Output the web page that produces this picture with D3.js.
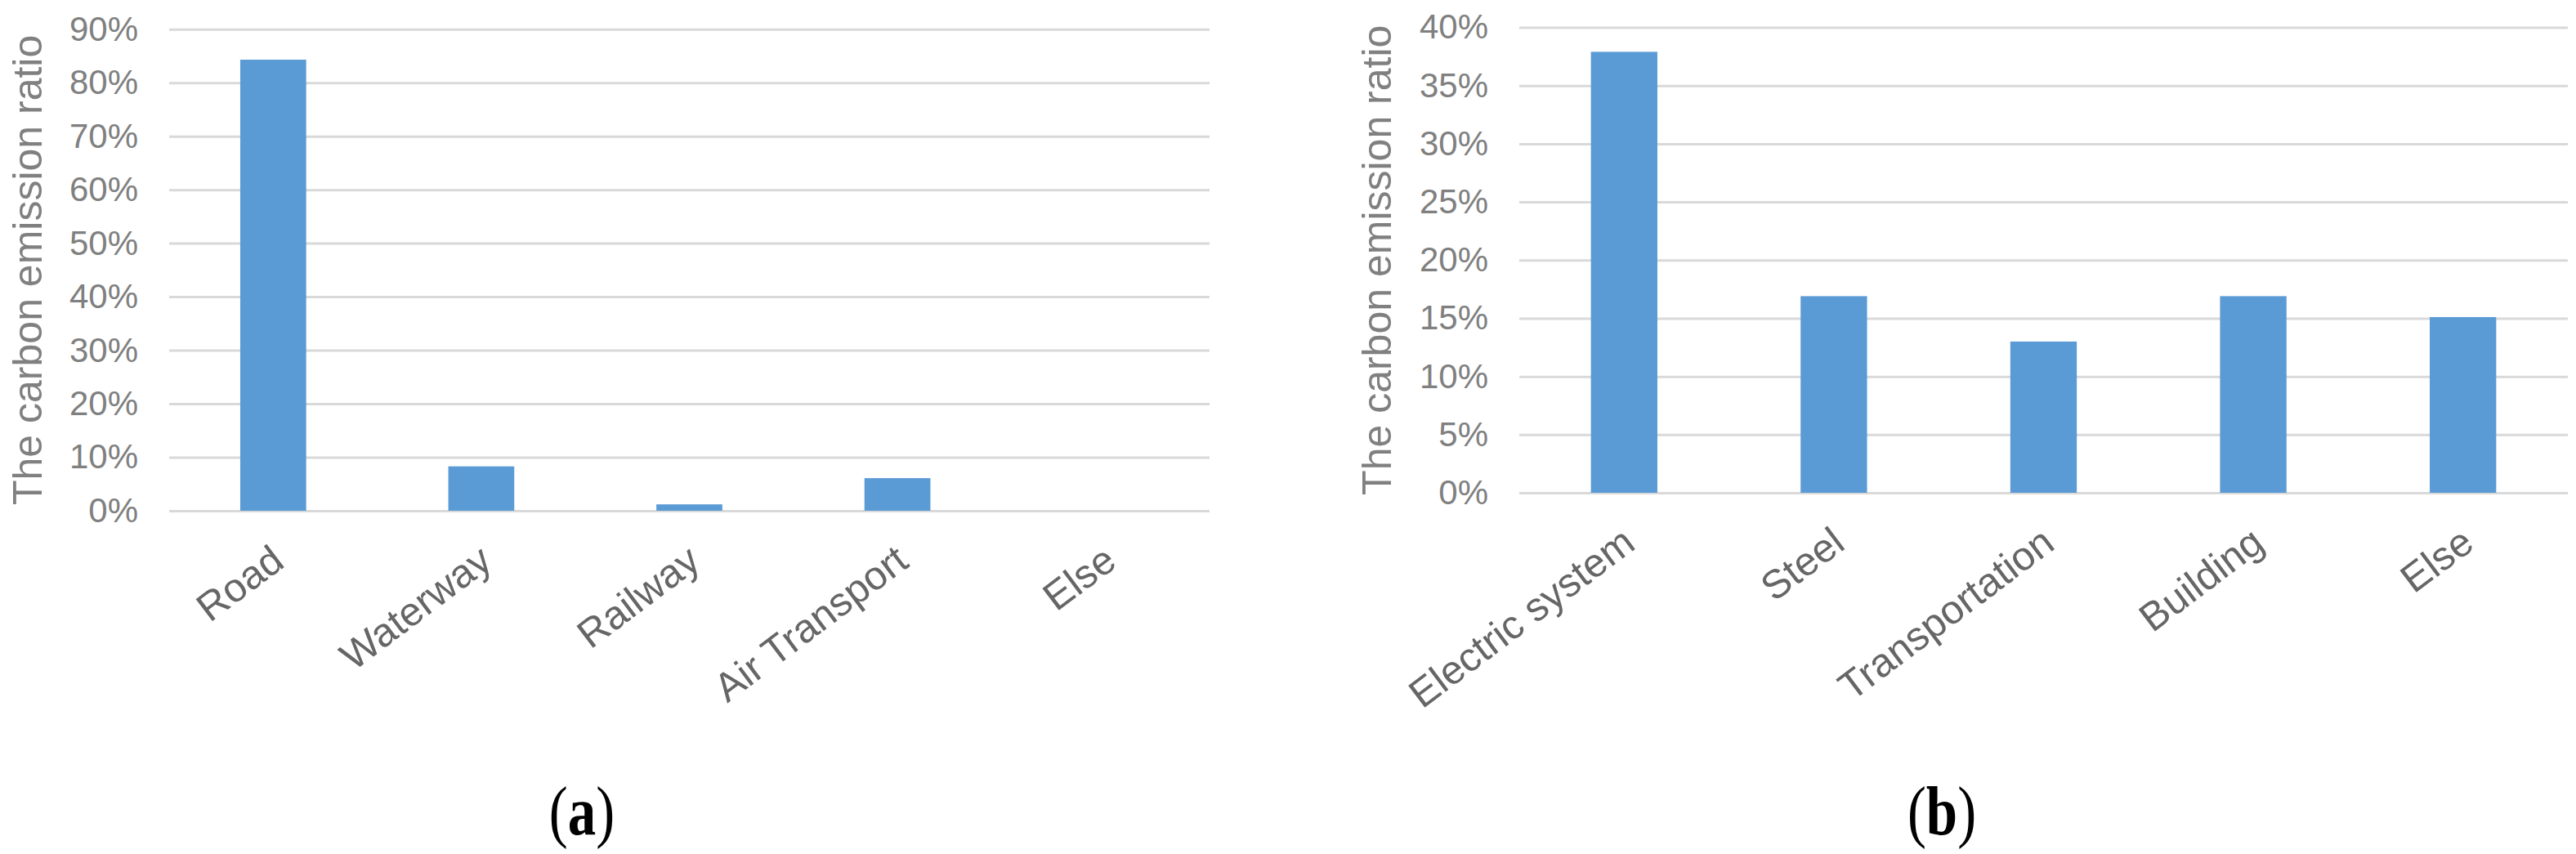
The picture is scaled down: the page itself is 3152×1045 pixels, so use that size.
<!DOCTYPE html>
<html>
<head>
<meta charset="utf-8">
<script src="https://cdn.jsdelivr.net/npm/d3@7"></script>
<style>
  body { margin: 0; background: #fff; }
  svg { display: block; }
</style>
</head>
<body>
<div id="chart"></div>
<script>
// Panel (a): carbon emission share by transport mode
const catsA = ["Road", "Waterway", "Railway", "Air Transport", "Else"];
const valsA = [0.843, 0.083, 0.012, 0.061, 0];
const ticksA = [0, 0.1, 0.2, 0.3, 0.4, 0.5, 0.6, 0.7, 0.8, 0.9];

// Panel (b): carbon emission share by sector
const catsB = ["Electric system", "Steel", "Transportation", "Building", "Else"];
const valsB = [0.379, 0.169, 0.130, 0.169, 0.151];
const ticksB = [0, 0.05, 0.1, 0.15, 0.2, 0.25, 0.3, 0.35, 0.4];

const svg = d3.select("#chart").append("svg")
    .attr("width", 3152)
    .attr("height", 1045);

renderPanel({
    cats: catsA, vals: valsA, ticks: ticksA,
    left: 207, right: 1480, top: 35.7, bottom: 625,
    titleX: 51, label: "a", labelX: 712
});

renderPanel({
    cats: catsB, vals: valsB, ticks: ticksB,
    left: 1859, right: 3142, top: 33.5, bottom: 603,
    titleX: 1702, label: "b", labelX: 2376
});

function renderPanel(cfg) {
    const width = cfg.right - cfg.left;
    const height = cfg.bottom - cfg.top;

    const g = svg.append("g")
        .attr("transform", `translate(${cfg.left},${cfg.top})`);

    const x = d3.scaleBand()
        .domain(cfg.cats)
        .range([0, width])
        .paddingInner(0.683)
        .paddingOuter(0.683 / 2);

    const y = d3.scaleLinear()
        .domain([0, d3.max(cfg.ticks)])
        .range([height, 0]);

    // gridlines
    g.append("g")
        .call(d3.axisLeft(y).tickValues(cfg.ticks).tickSize(-width).tickFormat(""))
        .call(a => a.select(".domain").remove())
        .selectAll("line")
        .attr("stroke", "#d9d9d9")
        .attr("stroke-width", 3);

    // y tick labels
    g.append("g")
        .call(d3.axisLeft(y).tickValues(cfg.ticks).tickSize(0).tickPadding(38).tickFormat(d3.format(".0%")))
        .call(a => a.select(".domain").remove())
        .selectAll("text")
        .attr("fill", "#808080")
        .style("font-family", "'Liberation Sans Narrow', 'Arial Narrow', 'Liberation Sans', Arial, sans-serif")
        .style("font-size", "42px");

    // bars
    g.selectAll("rect")
        .data(cfg.cats.map((c, i) => ({ cat: c, val: cfg.vals[i] })))
        .join("rect")
        .attr("x", d => x(d.cat))
        .attr("width", x.bandwidth())
        .attr("y", d => y(d.val))
        .attr("height", d => height - y(d.val))
        .attr("fill", "#5b9bd5");

    // category labels, rotated
    g.append("g")
        .attr("transform", `translate(0,${height})`)
        .call(d3.axisBottom(x).tickSize(0))
        .call(a => a.select(".domain").remove())
        .selectAll("text")
        .attr("x", 0).attr("y", 0).attr("dy", null)
        .attr("transform", "translate(16,67) rotate(-37)")
        .style("text-anchor", "end")
        .attr("fill", "#666666")
        .style("font-family", "'Liberation Sans', Arial, sans-serif")
        .style("font-size", "49px");

    // y axis title
    svg.append("text")
        .attr("transform", `translate(${cfg.titleX},${cfg.top + height / 2}) rotate(-90)`)
        .attr("text-anchor", "middle")
        .attr("fill", "#808080")
        .style("font-family", "'Liberation Sans', Arial, sans-serif")
        .style("font-size", "50px")
        .text("The carbon emission ratio");

    // sub-figure label
    const lab = svg.append("text")
        .attr("transform", `translate(${cfg.labelX},1021) scale(0.82,1)`)
        .attr("text-anchor", "middle")
        .attr("fill", "#000")
        .style("font-family", "'Liberation Serif', 'Times New Roman', serif")
        .style("font-size", "84px");
    lab.append("tspan").text("(");
    lab.append("tspan").style("font-weight", "bold").text(cfg.label);
    lab.append("tspan").text(")");
}
</script>
</body>
</html>
